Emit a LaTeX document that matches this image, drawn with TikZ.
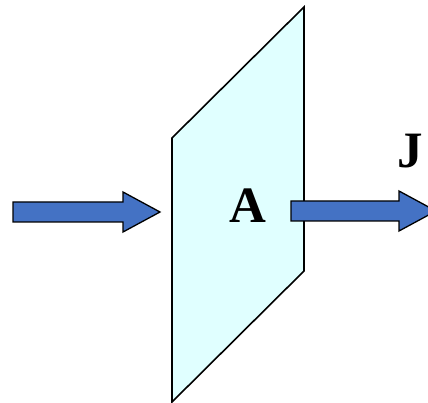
\documentclass[tikz,border=0pt]{standalone}
\usepackage{fontspec}
\setmainfont{Liberation Serif}
\begin{document}
\begin{tikzpicture}[x=1pt,y=-1pt,
  plane/.style={draw=black,line width=1.6pt,fill=cyan!12,line join=miter},
  fatarrow/.style={draw=black,line width=1.3pt,fill=arrowblue,line join=miter},
  lbl/.style={font=\fontsize{51}{60}\bfseries\selectfont,inner sep=0pt,anchor=base}]
\definecolor{arrowblue}{HTML}{4472C4}
\definecolor{cyan}{HTML}{00FFFF}
\useasboundingbox (0,0) rectangle (428,403);
\clip (0,0) rectangle (428,403);
\draw[plane] (172,138) -- (304,7) -- (304,271) -- (172,402) -- cycle;
\draw[fatarrow] (13,202) -- (123,202) -- (123,192) -- (160,212) -- (123,232) -- (123,222) -- (13,222) -- cycle;
\draw[fatarrow] (291,201) -- (399,201) -- (399,191) -- (436,211) -- (399,231) -- (399,221) -- (291,221) -- cycle;
\node[lbl] (A) at (247.5,223) {A};
\node[lbl] (J) at (410,168) {J};
\end{tikzpicture}
\end{document}
